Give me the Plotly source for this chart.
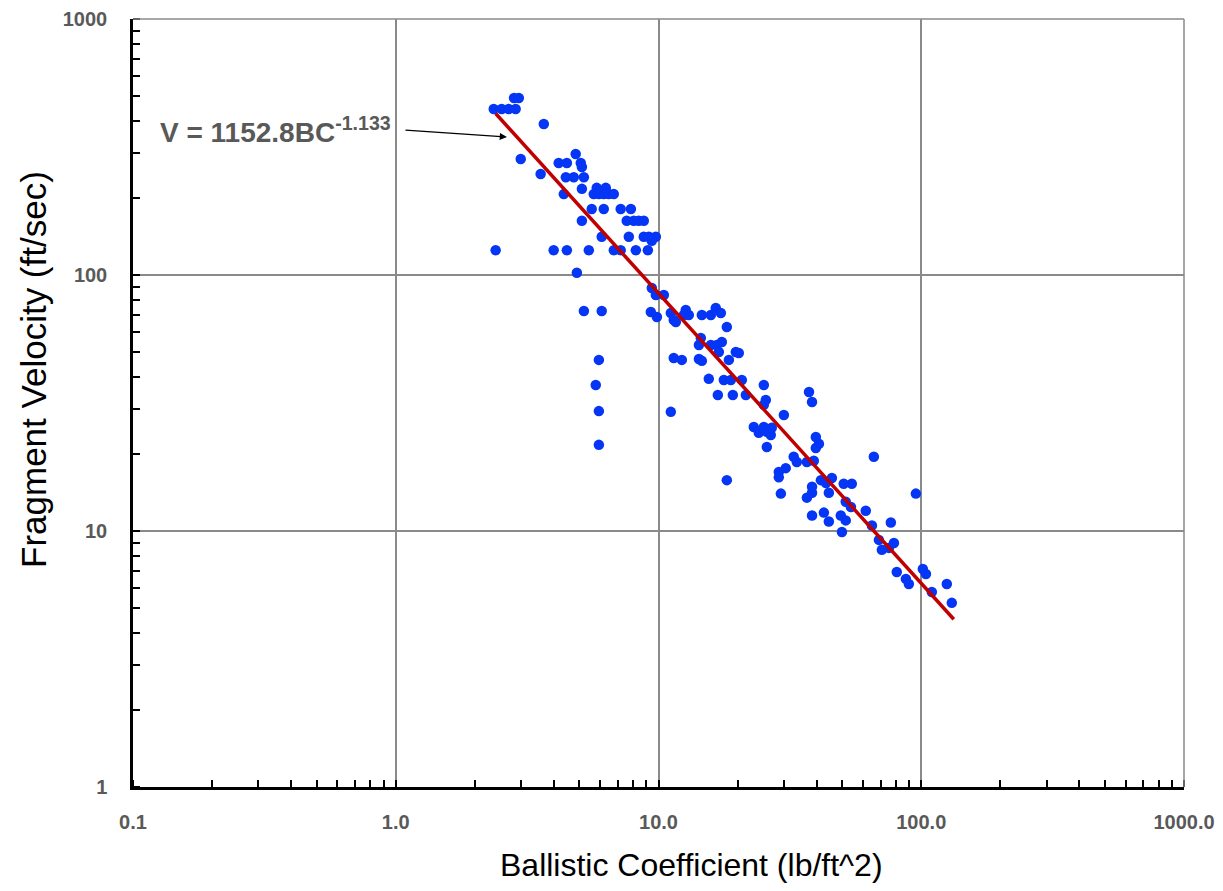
import plotly.graph_objects as go
import numpy as np

# Ballistic coefficient (lb/ft^2) and fragment velocity (ft/sec)
bc = [
    2.36, 2.53, 2.69, 2.86, 2.82, 2.94, 3.66, 2.99, 3.56, 4.17, 4.48, 4.84, 5.06, 5.11,
    4.44, 4.76, 5.20, 5.11, 4.36, 5.67, 5.93, 6.19, 6.47, 6.76, 5.82, 6.30,
    5.57, 6.19, 7.18, 7.85, 5.11, 7.57, 8.05, 8.41, 8.79,
    6.08, 7.71, 8.79, 9.19, 9.77, 9.43,
    2.40, 3.99, 4.48, 5.43, 6.76, 7.18, 8.20, 9.11, 4.89,
    5.20, 6.08, 5.93, 5.77, 5.93, 5.93,
    9.43, 9.77, 10.48, 9.35, 9.86, 11.14, 11.43, 11.64, 12.70, 13.04, 12.48,
    14.62, 15.82, 16.52, 17.27, 18.20, 14.49, 14.25, 15.82, 16.67, 17.42, 16.97,
    19.69, 18.53, 11.43, 12.27, 14.25, 14.62, 15.54, 17.73, 18.85, 20.75,
    16.82, 19.18, 21.50, 11.14, 18.20, 20.21,
    25.17, 25.61, 25.17, 37.4, 38.4, 30.0, 23.05, 24.08, 25.17, 25.84, 26.98, 26.75,
    25.84, 39.7, 40.8, 39.7, 32.7, 33.6, 39.0, 36.7, 30.5, 28.7, 28.7, 66.0,
    41.5, 45.7, 43.4, 50.7, 54.4, 38.4, 36.7, 38.4, 29.22, 44.5, 51.6, 54.0, 61.5,
    38.4, 42.6, 44.5, 49.4, 51.6, 49.9, 64.9, 76.6, 69.0, 78.7, 95.4, 70.8, 75.3,
    80.7, 87.4, 89.7, 101.4, 104.2, 109.7, 125.1, 130.7,
]
velocity = [
    445, 445, 445, 445, 491, 491, 389, 284, 248, 274, 274, 297, 274, 264,
    241, 241, 241, 217, 207, 207, 207, 207, 207, 207, 219, 219,
    181, 181, 181, 181, 163, 163, 163, 163, 163,
    141, 141, 141, 141, 141, 136,
    125, 125, 125, 125, 125, 125, 125, 125, 102,
    72.3, 72.3, 46.6, 37.2, 29.4, 21.7,
    89.0, 83.5, 83.5, 71.7, 68.5, 71.1, 66.7, 65.5, 73.0, 69.8, 69.8,
    69.8, 69.8, 74.3, 71.1, 62.6, 56.8, 53.3, 53.3, 53.3, 54.7, 50.0,
    50.0, 46.6, 47.4, 46.6, 47.0, 46.2, 39.3, 38.9, 38.9, 38.9,
    34.0, 34.0, 34.0, 29.2, 15.8, 49.6,
    37.2, 32.5, 31.1, 34.9, 31.9, 28.4, 25.5, 24.2, 25.5, 24.4, 25.3, 23.7,
    21.3, 23.3, 21.9, 21.1, 19.5, 18.6, 18.8, 18.6, 17.6, 17.0, 16.2, 19.5,
    15.8, 16.1, 15.4, 15.3, 15.3, 14.9, 13.5, 14.1, 14.0, 14.1, 13.0, 12.4, 12.0,
    11.5, 11.8, 10.9, 11.5, 11.0, 9.91, 10.5, 10.8, 9.23, 8.98, 14.0, 8.44, 8.59,
    6.92, 6.50, 6.21, 7.11, 6.79, 5.78, 6.21, 5.24,
]

# Power-law fit V = 1152.8 * BC^-1.133
fit_coef = 1152.8
fit_exp = -1.133
fit_range = [2.4, 133.0]

x_tickvals = [0.1, 1, 10, 100, 1000]
x_ticktext = ["0.1", "1.0", "10.0", "100.0", "1000.0"]
y_tickvals = [1, 10, 100, 1000]
y_ticktext = ["1", "10", "100", "1000"]

fit_x = np.array(fit_range)
fit_y = fit_coef * fit_x ** fit_exp

fig = go.Figure()
fig.add_trace(go.Scatter(
    x=bc, y=velocity, mode="markers",
    marker=dict(color="#0535f5", size=10.5, line=dict(width=0)),
    showlegend=False,
))
fig.add_trace(go.Scatter(
    x=fit_x, y=fit_y, mode="lines",
    line=dict(color="#c00000", width=3.5),
    showlegend=False,
))

grid_col = "#8a8a8a"
tick_font = dict(family="Liberation Sans", size=20, color="#595959", weight="bold")

fig.update_xaxes(
    type="log", range=[-1, 3], automargin=False,
    tickvals=x_tickvals, ticktext=x_ticktext, tickfont=tick_font,
    showgrid=True, gridcolor=grid_col, gridwidth=1.5,
    showline=True, linecolor="black", linewidth=2.5, mirror=False,
    ticks="", ticklabelstandoff=15,
    minor=dict(ticks="inside", ticklen=7, tickcolor="black", tickwidth=1.8,
               dtick="D1", showgrid=False),
    zeroline=False,
)
fig.update_yaxes(
    type="log", range=[0, 3], automargin=False,
    tickvals=y_tickvals, ticktext=y_ticktext, tickfont=tick_font,
    showgrid=True, gridcolor=grid_col, gridwidth=1.5,
    showline=True, linecolor="black", linewidth=2.5, mirror=False,
    ticks="", ticklabelstandoff=19,
    minor=dict(ticks="inside", ticklen=7, tickcolor="black", tickwidth=1.8,
               dtick="D1", showgrid=False),
    zeroline=False,
)

# Top and right borders (gray like gridlines)
fig.add_shape(type="line", xref="paper", yref="paper", x0=0, x1=1, y0=1, y1=1,
              line=dict(color=grid_col, width=1.5))
fig.add_shape(type="line", xref="paper", yref="paper", x0=1, x1=1, y0=0, y1=1,
              line=dict(color=grid_col, width=1.5))

# Equation label and arrow
fig.add_annotation(
    x=0.0238, y=0.8555, xref="paper", yref="paper", showarrow=False,
    xanchor="left", yanchor="middle",
    text="V = 1152.8BC<sup>-1.133</sup>",
    font=dict(family="Liberation Sans", size=28, color="#595959", weight="bold"),
)
fig.add_annotation(
    x=np.log10(2.65), y=np.log10(346), xref="x", yref="y",
    text="", showarrow=True, arrowhead=2, arrowsize=1.2, arrowwidth=1.2,
    arrowcolor="black", ax=-103, ay=-7, standoff=0,
)

fig.add_annotation(
    x=0.531, y=0, xref="paper", yref="paper", showarrow=False,
    text="Ballistic Coefficient (lb/ft^2)", yanchor="middle", yshift=-78,
    font=dict(family="Liberation Sans", size=32, color="black"),
)
fig.add_annotation(
    x=0, y=0.543, xref="paper", yref="paper", showarrow=False,
    text="Fragment Velocity (ft/sec)", textangle=-90, xanchor="center",
    xshift=-99,
    font=dict(family="Liberation Sans", size=35, color="black"),
)

fig.update_layout(
    width=1207, height=875,
    margin=dict(l=125, r=31, t=11, b=96, autoexpand=False),
    plot_bgcolor="white", paper_bgcolor="white",
)

fig.write_html("out.html")
